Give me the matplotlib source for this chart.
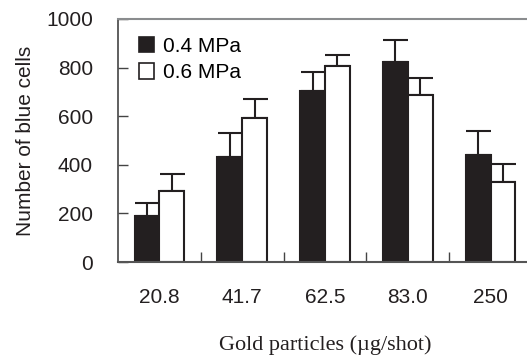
import numpy as np
from matplotlib import pyplot as plt
from matplotlib.patches import Patch

plt.rcParams['font.family'] = ['Liberation Sans', 'DejaVu Sans']

doses = ['20.8', '41.7', '62.5', '83.0', '250']
mpa04 = [190, 433, 704, 822, 440]
mpa04_err = [54, 99, 79, 91, 98]
mpa06 = [293, 594, 808, 688, 330]
mpa06_err = [69, 77, 44, 68, 72]

ink = '#231f20'

fig = plt.figure(figsize=(5.27, 3.59), dpi=100)
# axes extends a bit beyond the right edge like the cropped original
ax = fig.add_axes([118 / 527, 1 - 262 / 359, 414 / 527, 243 / 359])

x = np.arange(len(doses))
w = 0.3
ax.bar(x - w / 2, mpa04, w, color=ink, edgecolor=ink, linewidth=1.5, zorder=2)
ax.bar(x + w / 2, mpa06, w, color='white', edgecolor=ink, linewidth=1.5, zorder=2)
ax.errorbar(x - w / 2, mpa04, yerr=[np.zeros(5), mpa04_err], fmt='none',
            ecolor=ink, elinewidth=1.5, capsize=9, capthick=1.5, zorder=1)
ax.errorbar(x + w / 2, mpa06, yerr=[np.zeros(5), mpa06_err], fmt='none',
            ecolor=ink, elinewidth=1.5, capsize=9, capthick=1.5, zorder=1)

ax.set_xlim(-0.5, 4.5)
ax.set_ylim(0, 1000)
ax.set_yticks(range(0, 1001, 200))
ax.set_xticks(x)
ax.set_xticklabels(doses)
ax.set_xticks(x[:-1] + 0.5, minor=True)
ax.tick_params(axis='x', which='major', length=0, pad=19, labelsize=15, labelcolor=ink)
ax.tick_params(axis='x', which='minor', direction='in', length=7, width=1, color='#444444')
ax.tick_params(axis='y', direction='in', length=7, width=1, color='#444444',
               pad=18, labelsize=15, labelcolor=ink)

ax.spines['right'].set_visible(False)
ax.spines['top'].set_color('#8a8c8e')
ax.spines['top'].set_linewidth(1.5)
ax.spines['left'].set_color('#444444')
ax.spines['left'].set_linewidth(1.2)
ax.spines['bottom'].set_color('#555555')
ax.spines['bottom'].set_linewidth(1.5)

ax.set_ylabel('Number of blue cells', fontsize=15, color=ink, labelpad=8)
ax.set_xlabel('Gold particles (\u00b5g/shot)', fontsize=16, color=ink,
              family=['Liberation Serif', 'DejaVu Serif'], labelpad=20)

handles = [Patch(facecolor=ink, edgecolor=ink, linewidth=1.2),
           Patch(facecolor='white', edgecolor=ink, linewidth=1.2)]
ax.legend(handles, ['0.4 MPa', '0.6 MPa'], loc='upper left',
          bbox_to_anchor=(0.03, 0.96), frameon=False, fontsize=15,
          handlelength=0.75, handleheight=0.75, handletextpad=0.4,
          labelspacing=0.35, borderaxespad=0)

plt.savefig('out.png')
